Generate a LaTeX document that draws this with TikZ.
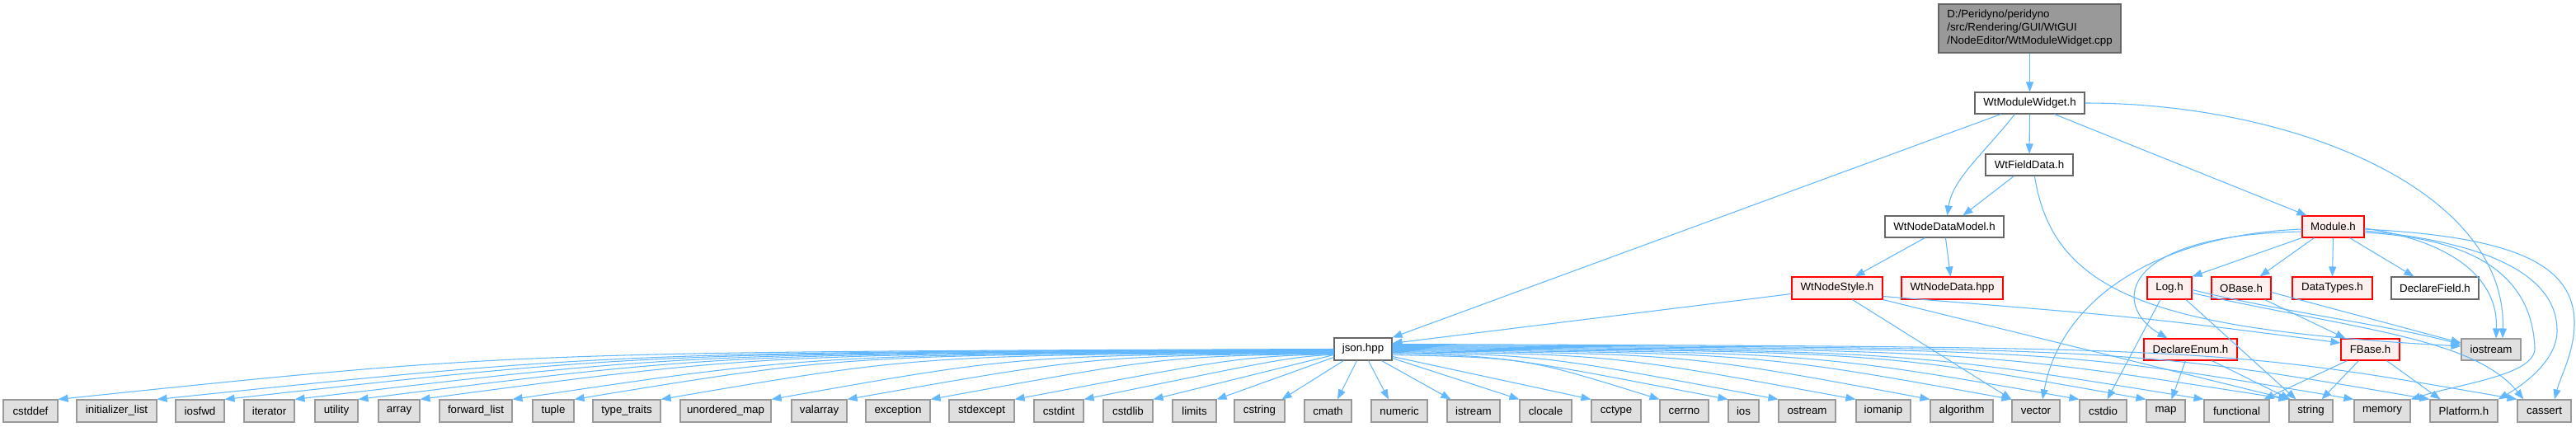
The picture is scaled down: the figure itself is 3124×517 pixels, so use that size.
\documentclass[tikz,border=0pt]{standalone}
\usepackage{fontspec}
\setmainfont{Liberation Sans}
\usetikzlibrary{arrows.meta}
\definecolor{edgeblue}{HTML}{63B8FF}
\definecolor{greyforty}{HTML}{666666}
\definecolor{greysixty}{HTML}{999999}
\definecolor{greyfill}{HTML}{E0E0E0}
\definecolor{pinkfill}{HTML}{FFF0F0}
\definecolor{redline}{HTML}{FF0000}
\tikzset{
  edge/.style={draw=edgeblue, line width=1.05pt, -{Triangle[length=12pt,width=9pt]}},
  nodebox/.style={draw, line width=1.1pt, inner sep=0pt, text=black, font=\fontsize{13.3}{16}\selectfont},
  plainbox/.style={nodebox, draw=greyforty, fill=white},
  truncbox/.style={nodebox, draw=redline, fill=pinkfill},
  sysbox/.style={nodebox, draw=greysixty, fill=greyfill, minimum height=27pt},
  rootbox/.style={nodebox, draw=greyforty, fill=greysixty, align=left},
}
\begin{document}
\begin{tikzpicture}[x=1pt,y=1pt]
\useasboundingbox (0,0) rectangle (3124,517);
\fill[white] (0,0) rectangle (3124,517);

% ---------- nodes ----------
\node[rootbox, minimum width=221pt, minimum height=59pt] (cpp) at (2461.5,482.5)
  {D:/Peridyno/peridyno\\/src/Rendering/GUI/WtGUI\\/NodeEditor/WtModuleWidget.cpp};
\node[plainbox, minimum width=133pt, minimum height=26pt] (wmw) at (2461.5,392) {WtModuleWidget.h};
\node[plainbox, minimum width=106pt, minimum height=26pt] (wfd) at (2461,317) {WtFieldData.h};
\node[plainbox, minimum width=144pt, minimum height=26pt] (wndm) at (2358,242) {WtNodeDataModel.h};
\node[truncbox, minimum width=75pt, minimum height=26pt] (module) at (2829.5,242) {Module.h};
\node[truncbox, minimum width=110pt, minimum height=27pt] (wns) at (2228,167.5) {WtNodeStyle.h};
\node[truncbox, minimum width=123pt, minimum height=27pt] (wnd) at (2367.5,167.5) {WtNodeData.hpp};
\node[truncbox, minimum width=54pt, minimum height=27pt] (log) at (2631,167.5) {Log.h};
\node[truncbox, minimum width=72pt, minimum height=27pt] (obase) at (2718,167.5) {OBase.h};
\node[truncbox, minimum width=97pt, minimum height=27pt] (datatypes) at (2828.5,167.5) {DataTypes.h};
\node[plainbox, minimum width=106pt, minimum height=27pt] (declfield) at (2953,167.5) {DeclareField.h};
\node[truncbox, minimum width=113pt, minimum height=26pt] (declenum) at (2656.5,93) {DeclareEnum.h};
\node[truncbox, minimum width=71pt, minimum height=26pt] (fbase) at (2874.5,93) {FBase.h};
\node[sysbox, minimum width=72pt, minimum height=26pt] (iostream) at (3021,93) {iostream};
\node[plainbox, minimum width=70pt, minimum height=27pt] (json) at (1653,93.5) {json.hpp};

% bottom row
\node[sysbox, minimum width=66pt] (cstddef) at (37,18.5) {cstddef};
\node[sysbox, minimum width=97pt] (initlist) at (141.5,18.5) {initializer\_list};
\node[sysbox, minimum width=59pt] (iosfwd) at (242.5,18.5) {iosfwd};
\node[sysbox, minimum width=61pt] (iterator) at (326.5,18.5) {iterator};
\node[sysbox, minimum width=52pt] (utility) at (408,18.5) {utility};
\node[sysbox, minimum width=50pt] (array) at (484,18.5) {array};
\node[sysbox, minimum width=88pt] (fwdlist) at (577,18.5) {forward\_list};
\node[sysbox, minimum width=50pt] (tuple) at (671,18.5) {tuple};
\node[sysbox, minimum width=82pt] (typetraits) at (760,18.5) {type\_traits};
\node[sysbox, minimum width=110pt] (umap) at (880,18.5) {unordered\_map};
\node[sysbox, minimum width=67pt] (valarray) at (993.5,18.5) {valarray};
\node[sysbox, minimum width=78pt] (exception) at (1089,18.5) {exception};
\node[sysbox, minimum width=79pt] (stdexcept) at (1190.5,18.5) {stdexcept};
\node[sysbox, minimum width=60pt] (cstdint) at (1284,18.5) {cstdint};
\node[sysbox, minimum width=60pt] (cstdlib) at (1368,18.5) {cstdlib};
\node[sysbox, minimum width=53pt] (limits) at (1448.5,18.5) {limits};
\node[sysbox, minimum width=61pt] (cstring) at (1527.5,18.5) {cstring};
\node[sysbox, minimum width=57pt] (cmath) at (1610.5,18.5) {cmath};
\node[sysbox, minimum width=68pt] (numeric) at (1697,18.5) {numeric};
\node[sysbox, minimum width=64pt] (istream) at (1787,18.5) {istream};
\node[sysbox, minimum width=63pt] (clocale) at (1874.5,18.5) {clocale};
\node[sysbox, minimum width=60pt] (cctype) at (1960,18.5) {cctype};
\node[sysbox, minimum width=59pt] (cerrno) at (2042.5,18.5) {cerrno};
\node[sysbox, minimum width=37pt] (ios) at (2114.5,18.5) {ios};
\node[sysbox, minimum width=69pt] (ostream) at (2191.5,18.5) {ostream};
\node[sysbox, minimum width=66pt] (iomanip) at (2284,18.5) {iomanip};
\node[sysbox, minimum width=76pt] (algorithm) at (2379,18.5) {algorithm};
\node[sysbox, minimum width=58pt] (vector) at (2469,18.5) {vector};
\node[sysbox, minimum width=57pt] (cstdio) at (2550.5,18.5) {cstdio};
\node[sysbox, minimum width=47pt] (map) at (2626.5,18.5) {map};
\node[sysbox, minimum width=79pt] (functional) at (2712.5,18.5) {functional};
\node[sysbox, minimum width=53pt] (string) at (2802.5,18.5) {string};
\node[sysbox, minimum width=68pt] (memory) at (2889,18.5) {memory};
\node[sysbox, minimum width=82pt] (platform) at (2988,18.5) {Platform.h};
\node[sysbox, minimum width=65pt] (cassert) at (3085.5,18.5) {cassert};

% ---------- edges: upper part ----------
\draw[edge] (cpp) -- (wmw);
\draw[edge] ([xshift=32pt]wmw.south west) -- (json.north east);
\draw[edge] ([xshift=49pt]wmw.south west) .. controls (2405,330) and (2368,300) .. ([xshift=76pt]wndm.north west);
\draw[edge] (wmw) -- (wfd);
\draw[edge] ([xshift=97pt]wmw.south west) -- ([xshift=6pt]module.north west);
\draw[edge] (wmw.east) .. controls (2780,392) and (3040,287) .. ([xshift=14pt]iostream.north);

\draw[edge] ([xshift=35pt]wfd.south west) -- ([xshift=95pt]wndm.north west);
\draw[edge] ([xshift=60pt]wfd.south west) .. controls (2490,157) and (2620,117) .. ([yshift=4pt]iostream.west);

\draw[edge] ([xshift=49pt]wndm.south west) -- ([xshift=77pt]wns.north west);
\draw[edge] ([xshift=74pt]wndm.south west) -- ([xshift=60pt]wnd.north west);

\draw[edge] ([yshift=-7pt]wns.west) -- ([yshift=7pt]json.east);
\draw[edge] ([xshift=74pt]wns.south west) -- (vector.north west);
\draw[edge] (wns.south east) -- (string.north west);
\draw[edge] ([yshift=-10pt]wns.east) .. controls (2600,132) .. ([yshift=8pt]fbase.west);

% Module.h
\draw[edge] (module.south west) -- (log.north east);
\draw[edge] ([xshift=15pt]module.south west) -- ([xshift=59pt]obase.north west);
\draw[edge] (module.south) -- (datatypes.north);
\draw[edge] ([xshift=58pt]module.south west) -- ([xshift=28pt]declfield.north west);
\draw[edge] ([yshift=-2pt]module.east) .. controls (2960,227) and (3030,187) .. ([xshift=6pt]iostream.north);
\draw[edge] ([yshift=-3pt]module.west) .. controls (2620,232) and (2500,157) .. ([xshift=8pt]vector.north);
\draw[edge] ([yshift=-6pt]module.west) .. controls (2570,232) and (2560,147) .. ([xshift=-28pt]declenum.north);
\draw[edge] ([yshift=-7pt]module.east) .. controls (2990,228) and (3070,190) .. (3074,95)
  .. controls (3075,62) and (2985,52) .. (memory.north east);
\draw[edge] ([yshift=-5pt]module.east) .. controls (3000,225) and (3100,190) .. (3101,117)
  .. controls (3102,80) and (3060,50) .. (platform.north east);
\draw[edge] ([yshift=-3pt]module.east) .. controls (3040,230) and (3122,200) .. (3122,125)
  .. controls (3122,90) and (3105,60) .. ([xshift=12.5pt]cassert.north);

% Log.h
\draw[edge] ([xshift=-11pt]log.south) -- ([xshift=5pt]cstdio.north);
\draw[edge] ([xshift=20pt]log.south) -- ([xshift=-18pt]string.north);
\draw[edge] ([yshift=-2pt]log.east) .. controls (2760,140) and (2900,122) .. ([yshift=6pt]iostream.west);
\draw[edge] ([yshift=-6pt]log.east) .. controls (2860,117) and (3000,107) .. ([xshift=8pt]cassert.north west);

% OBase.h
\draw[edge] ([xshift=65pt]obase.south west) -- ([xshift=6pt]fbase.north west);
\draw[edge] ([yshift=-5pt]obase.east) -- ([yshift=8pt]iostream.west);

% FBase.h
\draw[edge] ([xshift=8pt]fbase.south west) -- ([xshift=-7pt]functional.north east);
\draw[edge] ([xshift=22pt]fbase.south west) -- ([xshift=13pt]string.north);
\draw[edge] ([xshift=56pt]fbase.south west) -- ([xshift=13pt]platform.north west);

% DeclareEnum.h
\draw[edge] ([xshift=51pt]declenum.south west) -- ([xshift=31pt]map.north west);
\draw[edge] ([xshift=83pt]declenum.south west) -- ([xshift=2pt]string.north west);

% ---------- edges: json.hpp ----------
\draw[edge] (json.west) .. controls (622,90) .. (cstddef.north east);
\draw[edge] ([yshift=-0.5pt]json.west) .. controls (742,89.5) .. (initlist.north east);
\draw[edge] ([yshift=-1pt]json.west) .. controls (781,89) .. (iosfwd.north east);
\draw[edge] ([yshift=-1.5pt]json.west) .. controls (829,88.5) .. (iterator.north east);
\draw[edge] ([yshift=-2pt]json.west) .. controls (874,88) .. (utility.north east);
\draw[edge] ([yshift=-2.5pt]json.west) .. controls (922,87.5) .. (array.north east);
\draw[edge] ([yshift=-3pt]json.west) .. controls (987,87) .. (fwdlist.north east);
\draw[edge] ([yshift=-3.5pt]json.west) .. controls (1025,86.5) .. (tuple.north east);
\draw[edge] ([yshift=-4pt]json.west) .. controls (1114,86) .. (typetraits.north east);
\draw[edge] ([yshift=-4.5pt]json.west) .. controls (1233,85.5) .. (umap.north east);
\draw[edge] ([yshift=-5pt]json.west) .. controls (1325,85) .. (valarray.north east);
\draw[edge] ([yshift=-5.5pt]json.west) .. controls (1413,84.5) .. (exception.north east);
\draw[edge] ([yshift=-6pt]json.west) .. controls (1503,84) .. (stdexcept.north east);
\draw[edge] ([yshift=-6.5pt]json.west) .. controls (1560,83) .. (cstdint.north east);
\draw[edge] ([yshift=-7pt]json.west) -- (cstdlib.north east);
\draw[edge] ([yshift=-10pt]json.west) -- (limits.north east);
\draw[edge] ([xshift=12pt]json.south west) -- ([xshift=-4pt]cstring.north east);
\draw[edge] ([xshift=28pt]json.south west) -- ([xshift=11.5pt]cmath.north);
\draw[edge] ([xshift=42pt]json.south west) -- ([xshift=-13pt]numeric.north);
\draw[edge] ([xshift=58pt]json.south west) -- ([xshift=5pt]istream.north west);
\draw[edge] ([yshift=-11pt]json.east) -- (clocale.north west);
\draw[edge] ([yshift=-9pt]json.east) -- (cctype.north west);
\draw[edge] ([yshift=-7pt]json.east) .. controls (1850,83) .. (cerrno.north west);
\draw[edge] ([yshift=-5pt]json.east) .. controls (1823,85) .. (ios.north west);
\draw[edge] ([yshift=-4pt]json.east) .. controls (1872,86) .. (ostream.north west);
\draw[edge] ([yshift=-3pt]json.east) .. controls (1953,87) .. (iomanip.north west);
\draw[edge] ([yshift=-2pt]json.east) .. controls (2043,88) .. (algorithm.north west);
\draw[edge] ([yshift=-1pt]json.east) .. controls (2127,89) .. (vector.north west);
\draw[edge] (json.east) .. controls (2193,90) .. (cstdio.north west);
\draw[edge] ([yshift=1pt]json.east) .. controls (2274,91) .. (map.north west);
\draw[edge] ([yshift=2pt]json.east) .. controls (2307,92) .. (functional.north west);
\draw[edge] ([yshift=3pt]json.east) .. controls (2388,93) .. (string.north west);
\draw[edge] ([yshift=4pt]json.east) .. controls (2489,94) .. (memory.north west);
\draw[edge] ([yshift=5pt]json.east) .. controls (2581,95) .. (platform.north west);
\draw[edge] ([yshift=6pt]json.east) .. controls (2687,96) .. (cassert.north west);
\end{tikzpicture}
\end{document}
